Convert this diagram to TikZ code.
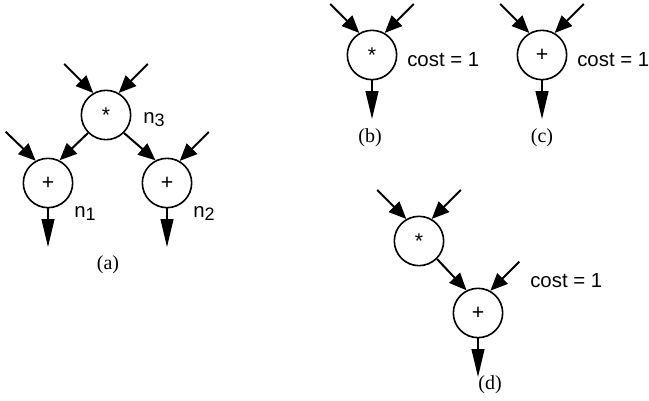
\documentclass[tikz,border=0pt]{standalone}
\usepackage{fontspec}
\setmainfont{Liberation Serif}
\setsansfont{Liberation Sans}
\usetikzlibrary{arrows.meta}
\newcommand\nsub[1]{n\raisebox{-2pt}{\fontsize{13.5}{15}\selectfont #1}}

\begin{document}
\begin{tikzpicture}[
    x=.75pt,y=.75pt,
    op/.style={circle,draw,line width=1.2pt,minimum size=37pt,inner sep=0pt,
      font=\sffamily\fontsize{16}{18}\selectfont},
    inflow/.style={-{Triangle[length=13pt,width=11pt]},line width=1.5pt},
    outflow/.style={-{Triangle[length=21pt,width=9.5pt]},line width=1.5pt},
    tag/.style={anchor=base west,inner sep=0pt,font=\sffamily\fontsize{15.3}{17}\selectfont},
    caption/.style={inner sep=0pt,font=\fontsize{15}{17}\selectfont}
  ]
  \useasboundingbox (0,0) rectangle (649,400);

  % (a)
  \node[op] (n3) at (106,285) {*};
  \node[op] (n1) at (48,217) {+};
  \node[op] (n2) at (167,217) {+};
  \node[tag] (n3name) at (143,276) {\nsub{3}};
  \node[tag] (n1name) at (74,182) {\nsub{1}};
  \node[tag] (n2name) at (193,182) {\nsub{2}};
  \node[caption] (capa) at (108,135) {(a)};

  % (b) and (c)
  \node[op] (b) at (372,345) {*};
  \node[op] (c) at (542,345) {+};
  \node[tag] (costb) at (407,333) {cost = 1};
  \node[tag] (costc) at (577,333) {cost = 1};
  \node[caption] (capb) at (370,262) {(b)};
  \node[caption] (capc) at (542,262) {(c)};

  % (d)
  \node[op] (dm) at (419,159) {*};
  \node[op] (da) at (478,87) {+};
  \node[tag] (costd) at (530,113) {cost = 1};
  \node[caption] (capd) at (490,15) {(d)};

  \foreach \n/\a/\dx in {n3/120/-29,n3/60/29,n1/119/-30,n2/60/29,b/120/-29,b/60/29,
      c/120/-29,c/60/29,dm/120/-29,dm/60/29,da/61/29}{
    \coordinate (\n in\a) at ([shift={(\dx,29)}]\n.\a);
    \draw[inflow] (\n in\a) -- (\n.\a);
  }
  \draw[inflow] (n3.225) -- (n1.63);
  \draw[inflow] (n3.315) -- (n2.117);
  \draw[inflow] (dm.315) -- (da.117);

  \foreach \n in {n1,n2,b,c,da}{
    \coordinate (\n out) at ([yshift=-29pt]\n.south);
    \draw[outflow] (\n.south) -- (\n out);
  }
\end{tikzpicture}
\end{document}
